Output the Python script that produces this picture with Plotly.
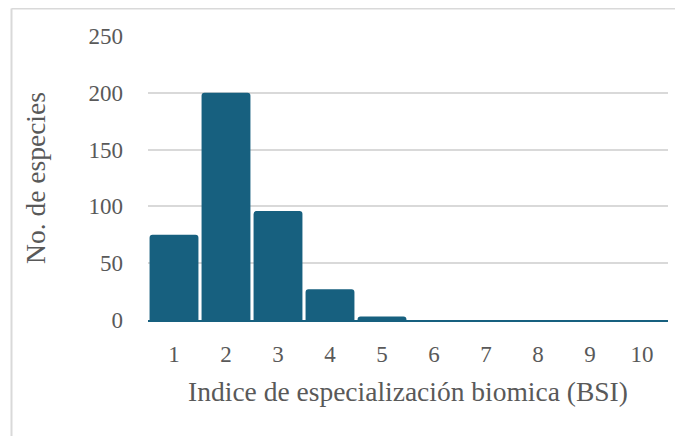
import plotly.graph_objects as go

categories = ["1", "2", "3", "4", "5", "6", "7", "8", "9", "10"]
values = [75, 200, 96, 27, 3, 0, 0, 0, 0, 0]
y_ticks = [0, 50, 100, 150, 200, 250]

BAR = "#17607f"
TXT = "#595959"
GRID = "#d9d9d9"
FONT = "Liberation Serif, Times New Roman, serif"

fig = go.Figure(go.Bar(
    x=categories, y=values,
    marker=dict(color=BAR, line=dict(width=0), cornerradius=3),
))

# page is offset by the 8px body margin
L, T = 140, 28
W, H = 683, 437
pw, ph = 520, 284
R = W - L - pw
B = H - T - ph

fig.update_layout(
    width=W, height=H,
    margin=dict(l=L, r=R, t=T, b=B),
    paper_bgcolor="white", plot_bgcolor="white",
    bargap=0.06,
    showlegend=False,
    font=dict(family=FONT, color=TXT, size=24),
    xaxis=dict(
        type="category",
        showgrid=False,
        showline=True, linecolor=BAR, linewidth=1.5,
        ticks="", ticklabelstandoff=13,
        tickfont=dict(size=23, color=TXT, family=FONT),
        title=dict(text="Indice de especialización biomica (BSI)",
                   font=dict(size=27.5, color=TXT, family=FONT), standoff=15),
    ),
    yaxis=dict(
        range=[0, 250],
        tickvals=y_ticks,
        showgrid=True, gridcolor=GRID, gridwidth=1.5,
        zeroline=False,
        showline=False,
        ticks="", ticklabelstandoff=24,
        tickfont=dict(size=23, color=TXT, family=FONT),
        title=dict(text="No. de especies",
                   font=dict(size=27.5, color=TXT, family=FONT), standoff=34),
    ),
    shapes=[
        dict(type="line", xref="paper", yref="paper",
             x0=(3.5 - L) / pw, x1=(3.5 - L) / pw,
             y0=(T + ph - 0.5) / ph, y1=(T + ph - 428) / ph,
             line=dict(color=GRID, width=2)),
        dict(type="line", xref="paper", yref="paper",
             x0=(3.5 - L) / pw, x1=(W + 5 - L) / pw,
             y0=(T + ph - 0.5) / ph, y1=(T + ph - 0.5) / ph,
             line=dict(color=GRID, width=2)),
    ],
)

fig.write_html("out.html")
